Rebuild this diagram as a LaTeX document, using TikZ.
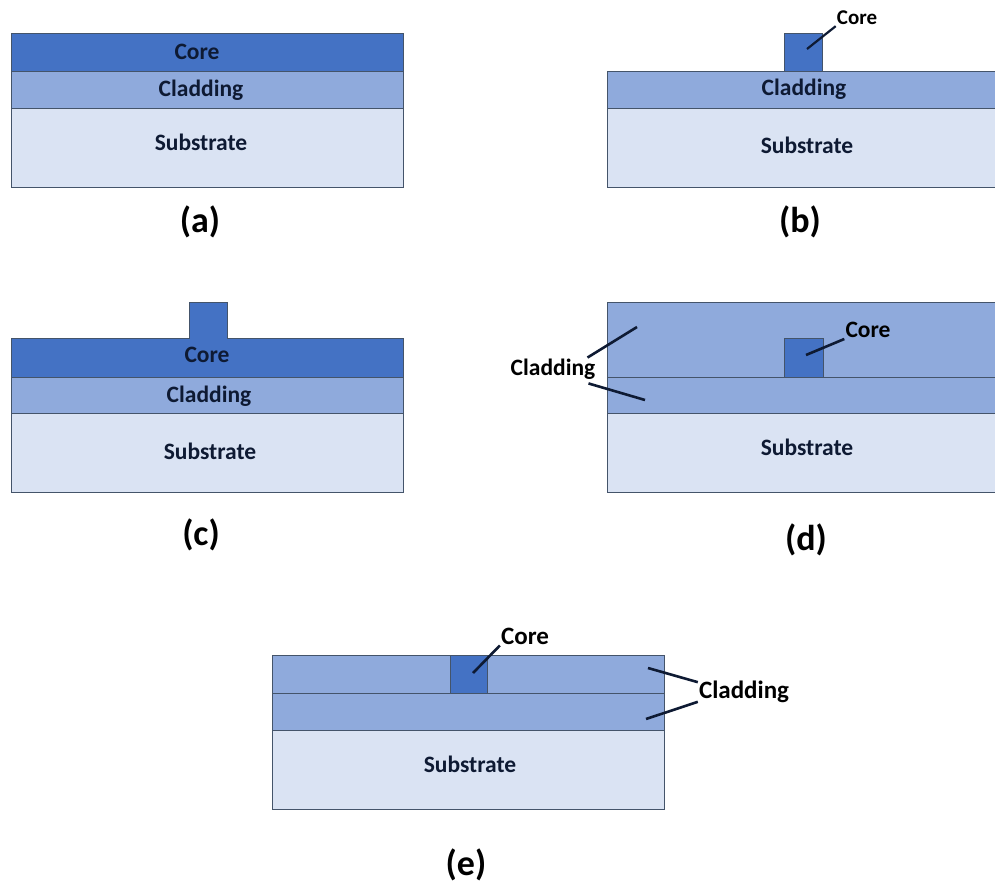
\documentclass[tikz,border=0pt]{standalone}
\usepackage{fontspec}
\setmainfont{Carlito}
\usetikzlibrary{positioning}
\definecolor{coreblue}{HTML}{4472C4}
\definecolor{cladblue}{HTML}{8FAADC}
\definecolor{subblue}{HTML}{DAE3F3}
\definecolor{edgeblue}{HTML}{44546A}
\definecolor{inkblue}{HTML}{0E1A33}
\tikzset{corelayer/.style={draw=edgeblue,fill=coreblue,line width=0.9pt}}
\tikzset{cladlayer/.style={draw=edgeblue,fill=cladblue,line width=0.9pt}}
\tikzset{sublayer/.style={draw=edgeblue,fill=subblue,line width=0.9pt}}
\tikzset{layertext/.style={font=\fontsize{23.5}{28}\selectfont\bfseries,text=inkblue,inner sep=1pt}}
\tikzset{sidelabel/.style={font=\fontsize{23.5}{28}\selectfont\bfseries,text=black,inner sep=1pt}}
\tikzset{caption/.style={font=\fontsize{36}{42}\selectfont\bfseries,text=black}}
\tikzset{leader/.style={draw=inkblue,line width=2.6pt}}

\begin{document}
\begin{tikzpicture}[x=1pt,y=-1pt]
    \useasboundingbox (0,0) rectangle (995,883);

    % (a) plain three-layer stack
    \draw[sublayer] (11,108) rectangle (403,187);
    \draw[cladlayer] (11,71) rectangle (403,108);
    \draw[corelayer] (11,33) rectangle (403,71);
    \node[layertext] (coreA) at (197,52) {Core};
    \node[layertext] (cladA) at (201,90) {Cladding};
    \node[layertext] (subA) at (201,142) {Substrate};
    \node[caption] (capA) at (200,222) {(a)};

    % (b) etched core on cladding
    \draw[sublayer] (607,108) rectangle (1000,187);
    \draw[cladlayer] (607,71) rectangle (1000,108);
    \draw[corelayer] (784,33) rectangle (822,71);
    \node[layertext] (cladB) at (804,89) {Cladding};
    \node[layertext] (subB) at (807,145) {Substrate};
    \node[sidelabel,font=\fontsize{21}{25}\selectfont\bfseries] (lblCoreB) at (857,18) {Core};
    \coordinate (tipCoreB) at (807,49);
    \draw[leader,line width=2.2pt] (tipCoreB) -- (lblCoreB.south west);
    \node[caption] (capB) at (800,222) {(b)};

    % (c) ridge left on top of the core layer
    \draw[sublayer] (11,413) rectangle (403,492);
    \draw[cladlayer] (11,377) rectangle (403,413);
    \draw[corelayer] (11,338) -- (189,338) -- (189,302) -- (227,302) -- (227,338)
        -- (403,338) -- (403,377) -- (11,377) -- cycle;
    \node[layertext] (coreC) at (207,355) {Core};
    \node[layertext] (cladC) at (209,396) {Cladding};
    \node[layertext] (subC) at (210,451) {Substrate};
    \node[caption] (capC) at (201,535) {(c)};

    % (d) core buried under upper cladding
    \draw[sublayer] (607,413) rectangle (1000,492);
    \draw[cladlayer] (607,377) rectangle (1000,413);
    \draw[cladlayer] (607,302) rectangle (1000,377);
    \draw[corelayer] (784,338) rectangle (823,377);
    \node[layertext] (subD) at (807,447) {Substrate};
    \node[sidelabel] (lblCoreD) at (868,330) {Core};
    \node[sidelabel] (lblCladD) at (553,369) {Cladding};
    \coordinate (tipCoreD) at (806,355);
    \coordinate (tipUpD) at (637,327);
    \coordinate (tipLowD) at (645,400);
    \draw[leader] (tipCoreD) -- (lblCoreD.south west);
    \draw[leader] ([xshift=-9pt]lblCladD.north east) -- (tipUpD);
    \draw[leader] ([xshift=-8pt,yshift=-3pt]lblCladD.south east) -- (tipLowD);
    \node[caption] (capD) at (806,540) {(d)};

    % (e) buried core, labels on the right
    \draw[sublayer] (272,730) rectangle (664,809);
    \draw[cladlayer] (272,693) rectangle (664,730);
    \draw[cladlayer] (272,655) rectangle (664,693);
    \draw[corelayer] (450,655) rectangle (487,693);
    \node[layertext] (subE) at (470,764) {Substrate};
    \node[sidelabel,font=\fontsize{25}{30}\selectfont\bfseries] (lblCoreE) at (525,636) {Core};
    \node[sidelabel,font=\fontsize{25}{30}\selectfont\bfseries] (lblCladE) at (744,692) {Cladding};
    \coordinate (tipCoreE) at (473,673);
    \coordinate (tipUpE) at (648,668);
    \coordinate (tipLowE) at (646,719);
    \draw[leader] (tipCoreE) -- (lblCoreE.south west);
    \draw[leader] (tipUpE) -- (lblCladE.168);
    \draw[leader] (tipLowE) -- (lblCladE.192);
    \node[caption] (capE) at (466,865) {(e)};
\end{tikzpicture}
\end{document}
